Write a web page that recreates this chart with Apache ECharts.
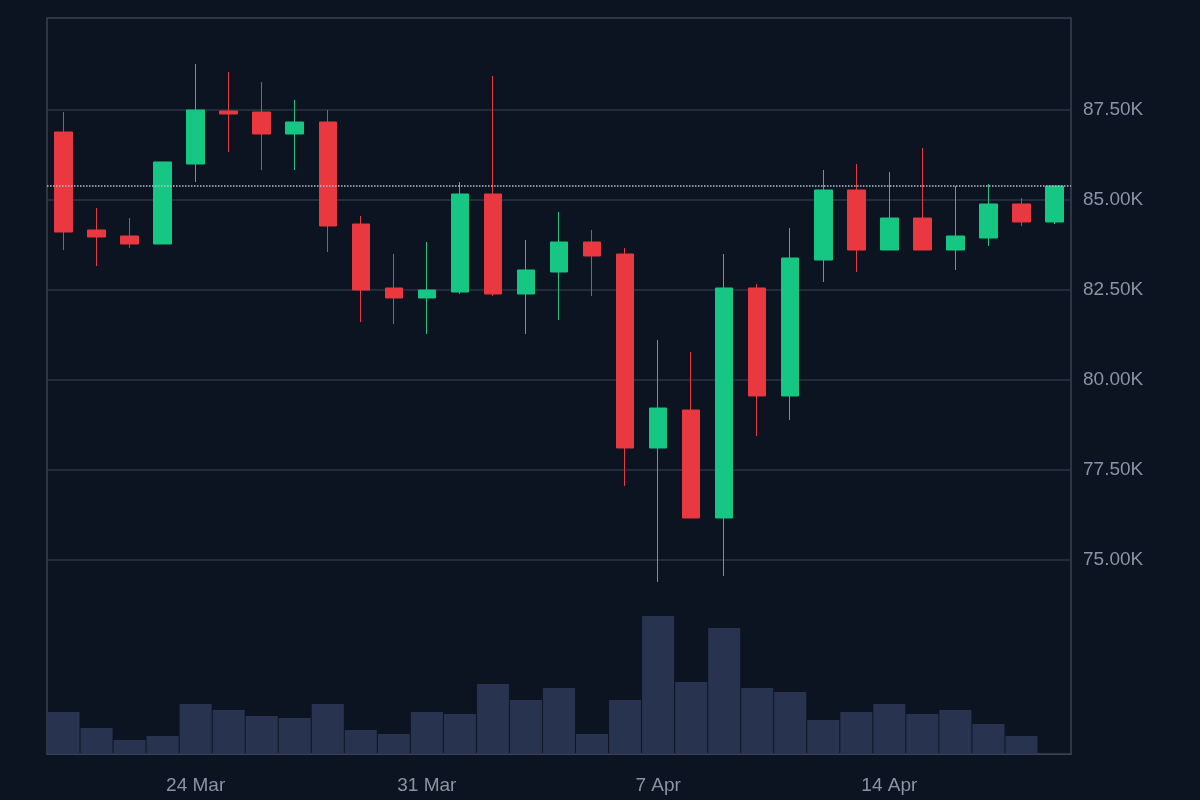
<!DOCTYPE html>
<html lang="en">
  <head>
    <meta charset="UTF-8" />
    <title>Candles</title>
    <script src="https://cdn.jsdelivr.net/npm/echarts@6/dist/echarts.min.js"></script>
    <style>
      body { margin: 0; background: #0d1421; }
      .echarts { width: 1200px; height: 800px; }
    </style>
  </head>
  <body>
    <div class="echarts"></div>
    <script>
        // dates 20 Mar .. 19 Apr
        const dates = ['20 Mar', '21 Mar', '22 Mar', '23 Mar', '24 Mar', '25 Mar', '26 Mar', '27 Mar', '28 Mar', '29 Mar', '30 Mar',
            '31 Mar', '1 Apr', '2 Apr', '3 Apr', '4 Apr', '5 Apr', '6 Apr', '7 Apr', '8 Apr', '9 Apr', '10 Apr',
            '11 Apr', '12 Apr', '13 Apr', '14 Apr', '15 Apr', '16 Apr', '17 Apr', '18 Apr', '19 Apr']

        // [open, close, low, high]
        const ohlc = [
            [86889, 84111, 83611, 87444], [84167, 83972, 83167, 84778], [84000, 83778, 83667, 84500],
            [83778, 86056, 83778, 86056], [86000, 87500, 85500, 88778], [87472, 87389, 86333, 88556],
            [87444, 86833, 85833, 88278], [86833, 87167, 85833, 87778], [87167, 84278, 83556, 87500],
            [84333, 82500, 81611, 84556], [82556, 82278, 81556, 83500], [82278, 82500, 81278, 83833],
            [82444, 85167, 82389, 85500], [85167, 82389, 82333, 88444], [82389, 83056, 81278, 83889],
            [83000, 83833, 81667, 84667], [83833, 83444, 82333, 84167], [83500, 78111, 77056, 83667],
            [78111, 79222, 74389, 81111], [79167, 76167, 76167, 80778], [76167, 82556, 74556, 83500],
            [82556, 79556, 78444, 82667], [79556, 83389, 78889, 84222], [83333, 85278, 82722, 85833],
            [85278, 83611, 83000, 86000], [83611, 84500, 83611, 85778], [84500, 83611, 83611, 86444],
            [83611, 84000, 83056, 85389], [83944, 84889, 83722, 85444], [84889, 84389, 84278, 85056],
            [84389, 85389, 84333, 85389]
        ]

        const volumes = [42, 26, 14, 18, 50, 44, 38, 36, 50, 24, 20, 42, 40, 70, 54, 66, 20, 54,
            138, 72, 126, 66, 62, 34, 42, 50, 40, 44, 30, 18, '-']

        const lastClose = 85389
        const priceTicks = [75000, 77500, 80000, 82500, 85000, 87500]

        const myCharts = echarts.init(document.querySelector('.echarts'))

        const labelStyle = { color: '#8b93a7', fontSize: 19, fontFamily: 'Liberation Sans, Arial, sans-serif' }

        const option = {
            backgroundColor: '#0d1421',
            animation: false,
            grid: [
                { left: 47, right: 129, top: 20, bottom: 150 },
                { left: 47, right: 129, top: 18, bottom: 46, show: true, borderColor: '#3a4252', borderWidth: 1.5, backgroundColor: 'transparent' }
            ],
            xAxis: [
                { type: 'category', data: dates, gridIndex: 0, show: false, boundaryGap: true },
                {
                    type: 'category', data: dates, gridIndex: 1, boundaryGap: true,
                    axisLine: { lineStyle: { color: '#3a4252' } },
                    axisTick: { show: false },
                    axisLabel: { ...labelStyle, margin: 22, interval: (i) => i % 7 === 4 }
                }
            ],
            yAxis: [
                {
                    type: 'value', gridIndex: 0, position: 'right', min: 72500, max: 90000, interval: 2500,
                    axisLine: { show: false }, axisTick: { show: false },
                    splitLine: { showMinLine: false, showMaxLine: false, lineStyle: { color: '#2b3445', width: 1.5 } },
                    axisLabel: {
                        ...labelStyle, margin: 12,
                        formatter: (v) => priceTicks.includes(v) ? (v / 1000).toFixed(2) + 'K' : ''
                    }
                },
                { type: 'value', gridIndex: 1, min: 0, max: 736, show: false, splitLine: { show: false } }
            ],
            series: [
                {
                    type: 'bar', xAxisIndex: 1, yAxisIndex: 1, data: volumes,
                    barCategoryGap: '3%', itemStyle: { color: '#283350' }, z: 1
                },
                {
                    type: 'candlestick', xAxisIndex: 0, yAxisIndex: 0, data: ohlc, barWidth: 18, z: 3,
                    itemStyle: {
                        color: '#16c784', color0: '#e9383f',
                        borderColor: '#16c784', borderColor0: '#e9383f', borderWidth: 1
                    },
                    markLine: {
                        silent: true, symbol: 'none', label: { show: false },
                        lineStyle: { type: 'dotted', color: '#b8bfcc', width: 1.5 },
                        data: [{ yAxis: lastClose }]
                    }
                }
            ]
        }

        myCharts.setOption(option)
    </script>
  </body>
</html>
